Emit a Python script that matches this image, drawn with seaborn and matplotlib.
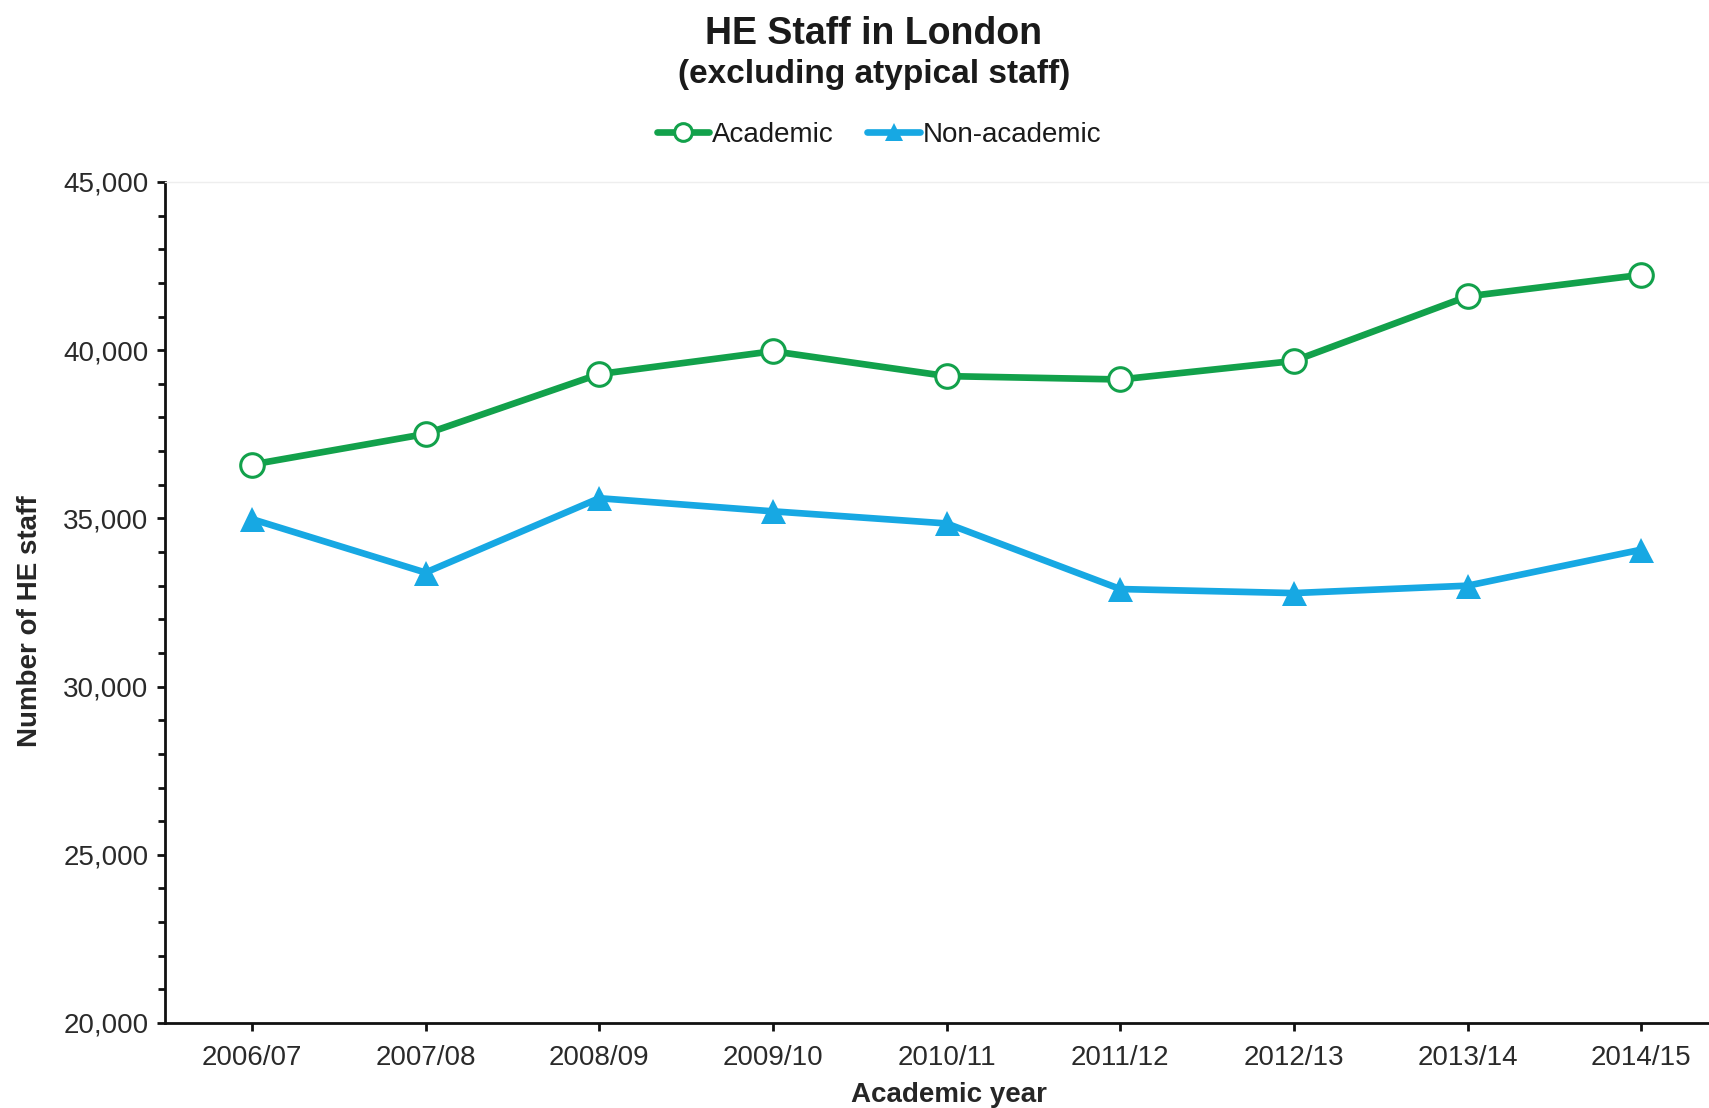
import matplotlib
matplotlib.use("Agg")
import matplotlib.pyplot as plt
import seaborn as sns
import pandas as pd
from matplotlib.ticker import MultipleLocator, StrMethodFormatter

# values
years = ["2006/07", "2007/08", "2008/09", "2009/10", "2010/11",
         "2011/12", "2012/13", "2013/14", "2014/15"]
academic = [36600, 37510, 39290, 39970, 39230, 39130, 39680, 41600, 42240]
non_academic = [34980, 33390, 35600, 35210, 34850, 32900, 32780, 33000, 34070]

green = "#12a14b"
blue = "#17a8e3"

sns.set_style("ticks")
plt.rcParams["font.family"] = ["Liberation Sans", "DejaVu Sans"]
plt.rcParams["text.color"] = "#1a1a1a"

df = pd.DataFrame({"year": years, "Academic": academic, "Non-academic": non_academic})

fig = plt.figure(figsize=(17.09, 11.08), dpi=100)
ax = fig.add_axes([165 / 1709, 1 - 1023 / 1108, 1 - 165 / 1709, (1023 - 182) / 1108])

sns.lineplot(data=df, x="year", y="Academic", ax=ax, color=green, linewidth=4.8,
             marker="o", markersize=17, markerfacecolor="white",
             markeredgecolor=green, markeredgewidth=2.2, label="Academic")
sns.lineplot(data=df, x="year", y="Non-academic", ax=ax, color=blue, linewidth=4.8,
             marker="^", markersize=18, markerfacecolor=blue,
             markeredgecolor=blue, markeredgewidth=0, label="Non-academic")

ax.set_xlim(-0.5, 8.39)
ax.set_ylim(20000, 45000)
ax.yaxis.set_major_locator(MultipleLocator(5000))
ax.yaxis.set_minor_locator(MultipleLocator(1000))
ax.yaxis.set_major_formatter(StrMethodFormatter("{x:,.0f}"))

for side in ["left", "bottom"]:
    ax.spines[side].set_linewidth(2.0)
    ax.spines[side].set_color("#111111")
ax.spines["top"].set_color("#eeeeee")
ax.spines["top"].set_linewidth(1.0)
ax.spines["right"].set_visible(False)

ax.tick_params(axis="both", which="major", length=6, width=2.0, color="#111111",
               labelsize=20, labelcolor="#2a2a2a", pad=6)
ax.tick_params(axis="y", which="minor", length=5, width=2.0, color="#111111")
ax.tick_params(axis="x", pad=10)

ax.set_xlabel("Academic year", fontsize=20, fontweight="bold", labelpad=8)
ax.xaxis.label.set_x(0.508)
ax.set_ylabel("Number of HE staff", fontsize=20, fontweight="bold")
ax.yaxis.set_label_coords(-0.079, 0.478)

fig.text(0.5114, 1 - 34 / 1108, "HE Staff in London", ha="center", va="center",
         fontsize=27, fontweight="bold")
fig.text(0.5114, 1 - 75 / 1108, "(excluding atypical staff)", ha="center", va="center",
         fontsize=24, fontweight="bold")

ax.legend(loc="center", bbox_to_anchor=(879 / 1709, 1 - 135 / 1108),
          bbox_transform=fig.transFigure, ncol=2, frameon=False, fontsize=20,
          handlelength=1.9, handletextpad=0.1, columnspacing=1.2, markerscale=0.75)

fig.savefig("out.png", dpi=100)
